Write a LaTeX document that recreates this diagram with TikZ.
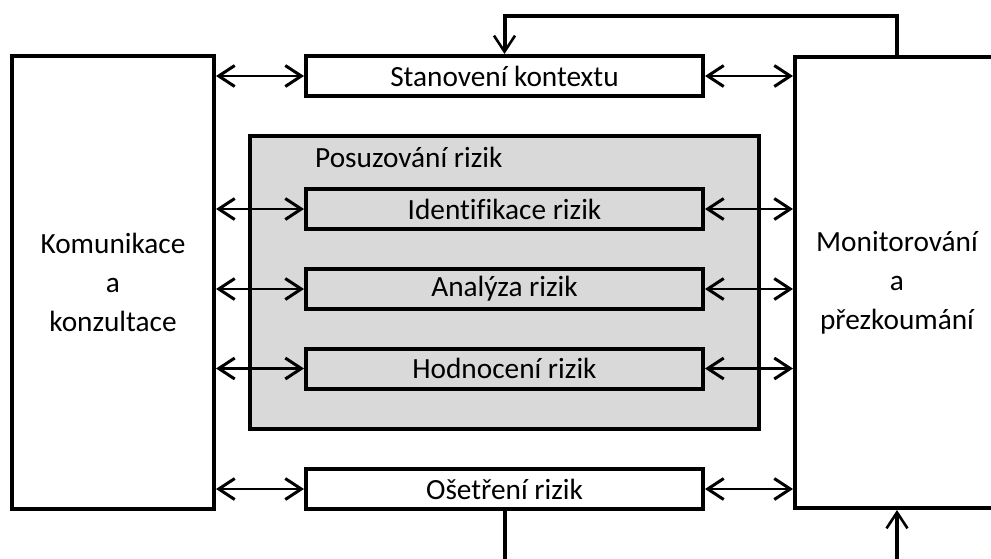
\documentclass[tikz,border=0pt]{standalone}
\usepackage{fontspec}
\setmainfont{Carlito}[Ligatures=NoCommon]
\usetikzlibrary{arrows.meta}
\tikzset{
  box/.style={draw, line width=4pt, inner sep=0pt, align=center},
  smallbox/.style={box, minimum width=397pt, minimum height=40pt},
  biarrow/.style={line width=2.3pt, {Straight Barb[length=16pt,width=21pt,line width=3pt]}-{Straight Barb[length=16pt,width=21pt,line width=3pt]}},
  thickline/.style={line width=4pt},
  downarrow/.style={line width=4pt, -{Straight Barb[length=16pt,width=21pt,line width=2.6pt]}},
}
\begin{document}
\begin{tikzpicture}[x=1pt,y=-1pt, font=\fontsize{29.3}{39}\selectfont]
\useasboundingbox (0,0) rectangle (991,558);
\clip (0,0) rectangle (991,558);
\fill[white] (0,0) rectangle (991,558);
% big boxes
\node[box, minimum width=202pt, minimum height=453pt] (K) at (113,282.5) {Komunikace\\a\\konzultace};
\node[box, minimum width=204pt, minimum height=451pt] (M) at (897,282.5) {Monitorování\\a\\přezkoumání};
\node[box, fill={rgb,255:red,217;green,217;blue,217}, minimum width=509pt, minimum height=293pt] (P) at (504.5,282.5) {};
\node[anchor=west, inner sep=0pt] (PT) at (315,157) {Posuzování rizik};
% small boxes
\node[smallbox] (S) at (504.5,76) {Stanovení kontextu};
\node[smallbox] (I) at (504.5,209) {Identifikace rizik};
\node[smallbox] (A) at (504.5,289) {Analýza rizik};
\node[smallbox] (H) at (504.5,368.5) {Hodnocení rizik};
\node[smallbox] (O) at (504.5,489) {Ošetření rizik};
% arrows
\foreach \n in {S,I,A,H,O}{
  \draw[biarrow] (\n.west -| K.east) -- (\n.west);
  \draw[biarrow] (\n.east) -- (\n.east -| M.west);
}
% top loop
\coordinate (t1) at (897,16);
\draw[downarrow] (M.north) -- (t1) -| (S.north);
% bottom lines
\coordinate (b1) at (504.5,575);
\coordinate (b2) at (897,575);
\draw[thickline] (O.south) -- (O.south |- b1);
\draw[downarrow] (b2) -- (M.south);
\end{tikzpicture}
\end{document}
